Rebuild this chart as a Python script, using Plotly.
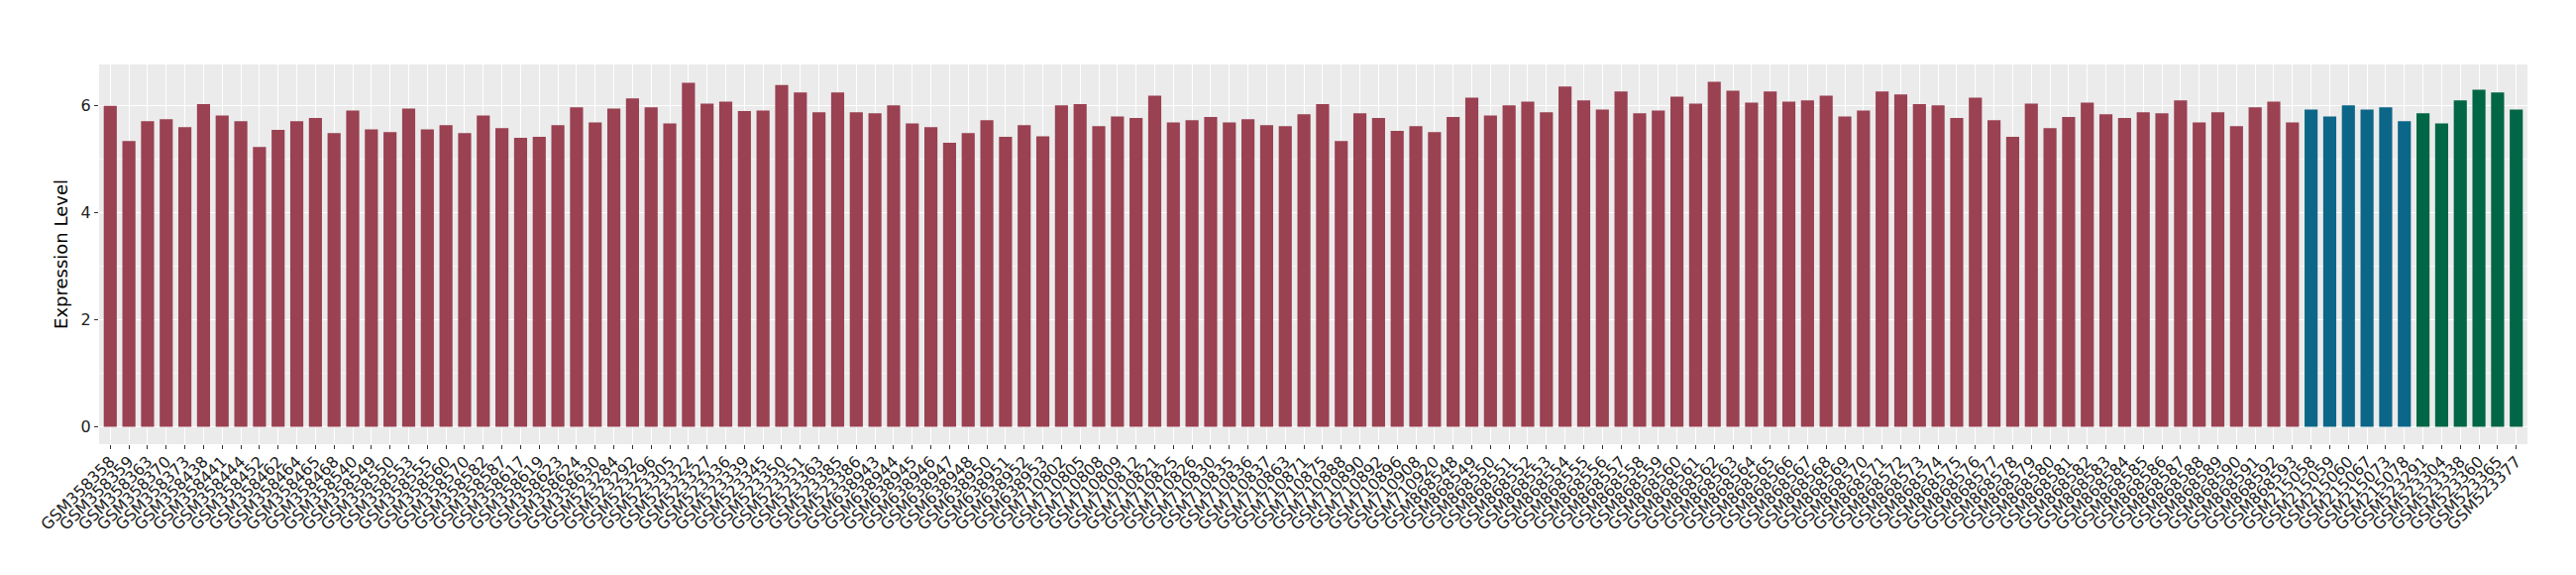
import plotly.graph_objects as go

samples_a = [
    "GSM358358", "GSM358359", "GSM358363", "GSM358370", "GSM358373", "GSM358438",
    "GSM358441", "GSM358444", "GSM358452", "GSM358462", "GSM358464", "GSM358465",
    "GSM358468", "GSM358540", "GSM358549", "GSM358550", "GSM358553", "GSM358555",
    "GSM358560", "GSM358570", "GSM358582", "GSM358587", "GSM358617", "GSM358619",
    "GSM358623", "GSM358624", "GSM358630", "GSM523284", "GSM523292", "GSM523296",
    "GSM523305", "GSM523322", "GSM523327", "GSM523336", "GSM523339", "GSM523345",
    "GSM523350", "GSM523351", "GSM523363", "GSM523385", "GSM523386", "GSM638943",
    "GSM638944", "GSM638945", "GSM638946", "GSM638947", "GSM638948", "GSM638950",
    "GSM638951", "GSM638952", "GSM638953", "GSM710802", "GSM710805", "GSM710808",
    "GSM710809", "GSM710812", "GSM710821", "GSM710825", "GSM710826", "GSM710830",
    "GSM710835", "GSM710836", "GSM710837", "GSM710863", "GSM710871", "GSM710875",
    "GSM710888", "GSM710890", "GSM710892", "GSM710896", "GSM710908", "GSM710920",
    "GSM868548", "GSM868549", "GSM868550", "GSM868551", "GSM868552", "GSM868553",
    "GSM868554", "GSM868555", "GSM868556", "GSM868557", "GSM868558", "GSM868559",
    "GSM868560", "GSM868561", "GSM868562", "GSM868563", "GSM868564", "GSM868565",
    "GSM868566", "GSM868567", "GSM868568", "GSM868569", "GSM868570", "GSM868571",
    "GSM868572", "GSM868573", "GSM868574", "GSM868575", "GSM868576", "GSM868577",
    "GSM868578", "GSM868579", "GSM868580", "GSM868581", "GSM868582", "GSM868583",
    "GSM868584", "GSM868585", "GSM868586", "GSM868587", "GSM868588", "GSM868589",
    "GSM868590", "GSM868591", "GSM868592", "GSM868593",
]
values_a = [
    6.00, 5.34, 5.71, 5.75, 5.60, 6.03, 5.82, 5.71, 5.23, 5.55, 5.71, 5.77,
    5.49, 5.91, 5.56, 5.51, 5.95, 5.56, 5.64, 5.49, 5.82, 5.58, 5.40, 5.42,
    5.64, 5.97, 5.69, 5.95, 6.14, 5.97, 5.67, 6.43, 6.04, 6.08, 5.90, 5.91,
    6.39, 6.25, 5.88, 6.25, 5.88, 5.86, 6.01, 5.67, 5.60, 5.31, 5.49, 5.73,
    5.42, 5.64, 5.43, 6.01, 6.03, 5.62, 5.80, 5.77, 6.19, 5.69, 5.73, 5.79,
    5.69, 5.75, 5.64, 5.62, 5.84, 6.03, 5.34, 5.86, 5.77, 5.53, 5.62, 5.51,
    5.79, 6.15, 5.82, 6.01, 6.08, 5.88, 6.36, 6.10, 5.93, 6.27, 5.86, 5.91,
    6.17, 6.04, 6.45, 6.28, 6.06, 6.27, 6.08, 6.10, 6.19, 5.80, 5.91, 6.27,
    6.21, 6.03, 6.01, 5.77, 6.15, 5.73, 5.42, 6.04, 5.58, 5.79, 6.06, 5.84,
    5.77, 5.88, 5.86, 6.10, 5.69, 5.88, 5.62, 5.97, 6.08, 5.69,
]

samples_b = ["GSM215058", "GSM215059", "GSM215060", "GSM215067", "GSM215073", "GSM215078"]
values_b = [5.93, 5.80, 6.01, 5.93, 5.97, 5.71]

samples_c = ["GSM523291", "GSM523304", "GSM523338", "GSM523360", "GSM523365", "GSM523377"]
values_c = [5.86, 5.67, 6.10, 6.30, 6.25, 5.93]

color_a = "#9A4152"
color_b = "#0C6688"
color_c = "#006645"

samples = samples_a + samples_b + samples_c
values = values_a + values_b + values_c
colors = [color_a] * len(samples_a) + [color_b] * len(samples_b) + [color_c] * len(samples_c)

fig = go.Figure(
    go.Bar(
        x=samples,
        y=values,
        marker=dict(color=colors, line=dict(width=0)),
        width=0.7,
        showlegend=False,
        hoverinfo="x+y",
    )
)

n = len(samples)
ymax = max(values)
fig.update_layout(
    width=2600,
    height=580,
    margin=dict(l=92, r=57, t=57, b=140, pad=0),
    paper_bgcolor="white",
    plot_bgcolor="#EBEBEB",
    font=dict(family="DejaVu Sans, Liberation Sans, Arial", size=16, color="#222222"),
    xaxis=dict(
        type="category",
        categoryorder="array",
        categoryarray=samples,
        tickmode="array",
        tickvals=samples,
        ticktext=samples,
        range=[-0.6, n - 1 + 0.6],
        tickangle=-45,
        ticklabelstandoff=-3,
        showgrid=True,
        gridcolor="white",
        gridwidth=1.1,
        ticks="outside",
        ticklen=4,
        tickwidth=1,
        tickcolor="#333333",
        tickfont=dict(size=16, color="#222222"),
        zeroline=False,
        showline=False,
        automargin=False,
    ),
    yaxis=dict(
        title=dict(text="Expression Level", font=dict(size=18, color="black"), standoff=8),
        range=[-0.05 * ymax, ymax * 1.05],
        tickvals=[0, 2, 4, 6],
        ticktext=["0", "2", "4", "6"],
        showgrid=True,
        gridcolor="white",
        gridwidth=1.1,
        minor=dict(tickvals=[1, 3, 5], showgrid=True, gridcolor="#F5F5F5", gridwidth=0.6, ticks=""),
        ticks="outside",
        ticklen=4,
        tickwidth=1,
        tickcolor="#333333",
        tickfont=dict(size=16, color="#222222"),
        zeroline=False,
        showline=False,
        automargin=False,
    ),
)

fig.write_html("out.html")
